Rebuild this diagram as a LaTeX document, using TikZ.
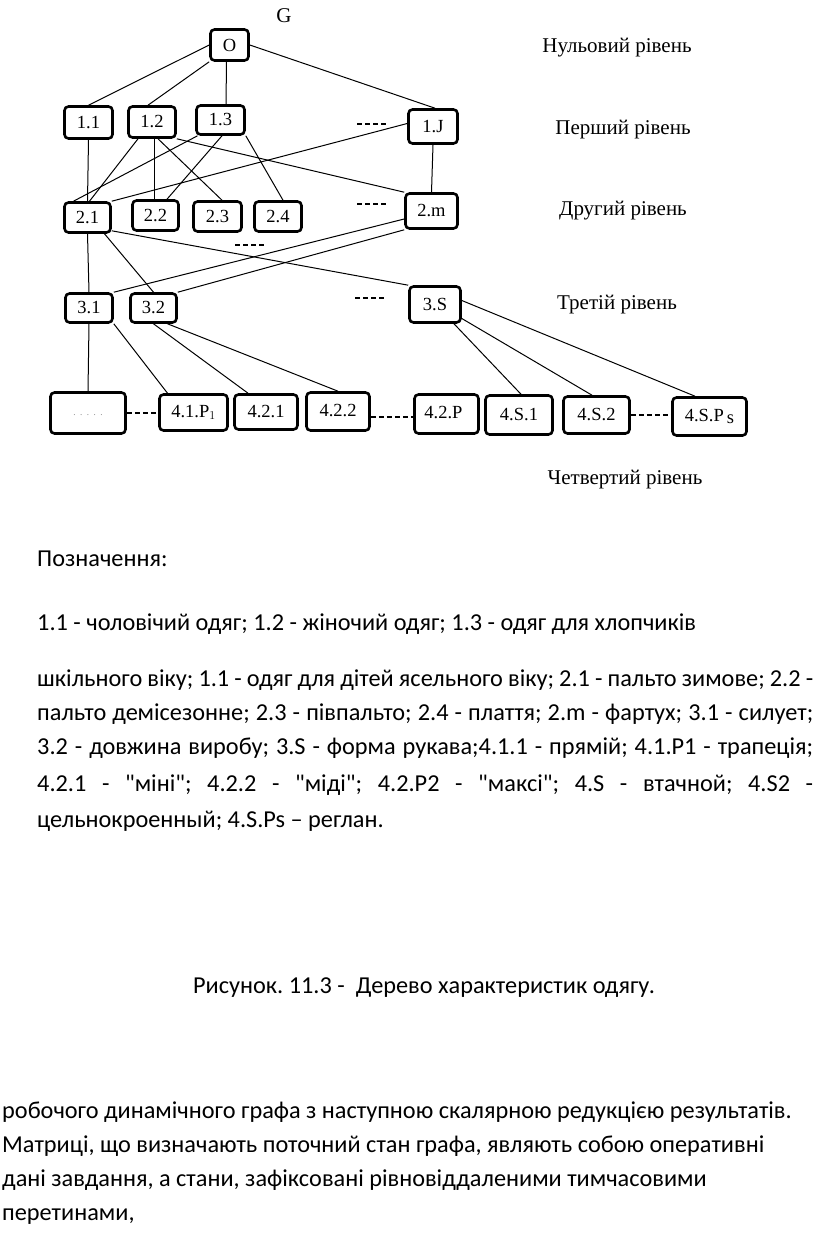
\documentclass[tikz,border=0pt]{standalone}
\usepackage{fontspec}
\setmainfont{Carlito}[Ligatures=TeXOff]
\newfontfamily\diagfont{Liberation Serif}
\frenchspacing
\begin{document}
\begin{tikzpicture}[x=1pt,y=-1pt,
  box/.style={draw, line width=2.6pt, rounded corners=4pt, inner sep=0pt,
    font=\diagfont\fontsize{18.5}{20}\selectfont},
  edge/.style={line width=1pt},
  dashlink/.style={line width=2pt, dash pattern=on 5pt off 3pt},
  lvl/.style={font=\diagfont\fontsize{21}{23}\selectfont, inner sep=0pt},
  txt/.style={font=\fontsize{24.3}{28}\selectfont, inner sep=0pt, anchor=base west},
]
\useasboundingbox (0,0) rectangle (816,1249);
% ---------- boxes ----------
\node[box, minimum width=38, minimum height=31] (O)    at (229.5,45)  {O};
\node[box, minimum width=48, minimum height=32] (n11)  at (88.5,122.5) {1.1};
\node[box, minimum width=47, minimum height=31] (n12)  at (152,122)   {1.2};
\node[box, minimum width=48, minimum height=29] (n13)  at (220.5,120) {1.3};
\node[box, minimum width=49, minimum height=34] (n1J)  at (433,126.5) {1.J};
\node[box, minimum width=46, minimum height=30] (n21)  at (87.5,217.5) {2.1};
\node[box, minimum width=46, minimum height=30] (n22)  at (155.5,215.5) {2.2};
\node[box, minimum width=48, minimum height=30] (n23)  at (217.5,216.5) {2.3};
\node[box, minimum width=47, minimum height=30] (n24)  at (278,216.5) {2.4};
\node[box, minimum width=52, minimum height=35] (n2m)  at (431.5,211) {2.m};
\node[box, minimum width=47, minimum height=29] (n31)  at (89,308)    {3.1};
\node[box, minimum width=46, minimum height=29] (n32)  at (153.5,308) {3.2};
\node[box, minimum width=51, minimum height=36] (n3S)  at (435,304.5) {3.S};
\node[box, minimum width=75, minimum height=41] (n40)  at (88,413)    {\raisebox{-5pt}{\fontsize{9}{10}\selectfont\color{gray}.\ \ .\ \ .\ \ .\ \ .}};
\node[box, minimum width=68, minimum height=36] (n41P) at (193.5,412.5) {4.1.P$_1$};
\node[box, minimum width=63, minimum height=35] (n421) at (266,412)   {4.2.1};
\node[box, minimum width=63, minimum height=38] (n422) at (338,411.5) {\raisebox{3pt}{4.2.2}};
\node[box, minimum width=64, minimum height=39] (n42P) at (446.5,414) {\raisebox{4pt}{4.2.P\hspace{6pt}}};
\node[box, minimum width=67, minimum height=39] (n4S1) at (519,415)   {4.S.1};
\node[box, minimum width=66, minimum height=37] (n4S2) at (596.5,415) {\raisebox{2pt}{4.S.2}};
\node[box, minimum width=74, minimum height=38] (n4SP) at (709.5,416.5) {4.S.P\,\raisebox{-2pt}{s}};
% ---------- labels ----------
\node[lvl] (G) at (284,16) {G};
\node[lvl] (L0) at (617,48)  {Нульовий рівень};
\node[lvl] (L1) at (623,130) {Перший рівень};
\node[lvl] (L2) at (623,211) {Другий рівень};
\node[lvl] (L3) at (617,305) {Третій рівень};
\node[lvl] (L4) at (625,480) {Четвертий рівень};
% ---------- edges ----------
\draw[edge] (O.west) -- (n11.north);
\draw[edge] (O.south west) -- ([xshift=-4]n12.north);
\draw[edge] ([xshift=-3]O.south) -- ([xshift=5.5]n13.north);
\draw[edge] (O.east) -- ([xshift=2]n1J.north);
\draw[edge] (n11.south) -- (n21.north);
\draw[edge] ([xshift=-14]n12.south) -- ([xshift=2]n21.north);
\draw[edge] ([xshift=2]n12.south) -- ([xshift=-1.5]n22.north);
\draw[edge] ([xshift=6]n12.south) -- ([xshift=4.5]n23.north);
\draw[edge] (n12.south east) -- (n2m.north west);
\draw[edge] ([xshift=-23]n13.south) -- ([xshift=-14]n21.north);
\draw[edge] ([xshift=1.5]n13.south) -- ([xshift=11.5]n22.north);
\draw[edge] (n13.south east) -- ([xshift=5]n24.north);
\draw[edge] ([yshift=3]n1J.west) -- (n21.north east);
\draw[edge] (n1J.south) -- (n2m.north);
\draw[edge] (n21.south) -- (n31.north);
\draw[edge] ([xshift=17]n21.south) -- (n32.north);
\draw[edge] ([yshift=3]n21.south east) -- (n3S.north west);
\draw[edge] ([yshift=-8]n2m.west) -- (n31.north east);
\draw[edge] (n2m.south west) -- (n32.north east);
\draw[edge] (n31.south) -- (n40.north);
\draw[edge] (n31.south east) -- ([xshift=-26]n41P.north);
\draw[edge] (n32.south) -- ([xshift=-18]n421.north);
\draw[edge] ([xshift=14]n32.south) -- (n422.north);
\draw[edge] ([xshift=19]n3S.south) -- ([xshift=2]n4S1.north);
\draw[edge] ([yshift=-14]n3S.east) -- ([xshift=-4.5]n4S2.north);
\draw[edge] ([yshift=4]n3S.east) -- ([xshift=-14.5]n4SP.north);
% dashed links in level 4
\draw[dashlink] (n40.east) -- (n41P.west |- n40.east);
\draw[dashlink] ([yshift=-5]n422.east) -- ([yshift=-5]n422.east -| n42P.west);
\draw[dashlink] (n4S2.east) -- (n4S2.east -| n4SP.west);
% free "----" marks
\coordinate (d1a) at (357,124); \coordinate (d1b) at (388,124);
\coordinate (d2a) at (357,204); \coordinate (d2b) at (388,204);
\coordinate (d3a) at (235,245); \coordinate (d3b) at (265,245);
\coordinate (d4a) at (355,298); \coordinate (d4b) at (386,298);
\draw[dashlink] (d1a) -- (d1b);
\draw[dashlink] (d2a) -- (d2b);
\draw[dashlink] (d3a) -- (d3b);
\draw[dashlink] (d4a) -- (d4b);
% ---------- text ----------
\node[txt] (t0) at (37,566) {Позначення:};
\node[txt] (t1) at (37,630) {1.1 - чоловічий одяг; 1.2 - жіночий одяг; 1.3 - одяг для хлопчиків};
\node[txt] (t2) at (37,686) {\makebox[776pt][s]{шкільного віку; 1.1 - одяг для дітей ясельного віку; 2.1 - пальто зимове; 2.2 -}};
\node[txt] (t3) at (37,720) {\makebox[776pt][s]{пальто демісезонне; 2.3 - півпальто; 2.4 - плаття; 2.m - фартух; 3.1 - силует;}};
\node[txt] (t4) at (37,754) {\makebox[776pt][s]{3.2 - довжина виробу; 3.S - форма рукава;4.1.1 - прямій; 4.1.P1 - трапеція;}};
\node[txt] (t5) at (37,791) {\makebox[776pt][s]{4.2.1 - "міні"; 4.2.2 - "міді"; 4.2.P2 - "максі"; 4.S - втачной; 4.S2 -}};
\node[txt] (t6) at (37,827) {цельнокроенный; 4.S.Ps – реглан.};
\node[txt, anchor=base] (cap) at (424,993) {Рисунок. 11.3 - \ Дерево характеристик одягу.};
\node[txt] (b1) at (2,1118) {робочого динамічного графа з наступною скалярною редукцією результатів.};
\node[txt] (b2) at (2,1152) {Матриці, що визначають поточний стан графа, являють собою оперативні};
\node[txt] (b3) at (2,1186) {дані завдання, а стани, зафіксовані рівновіддаленими тимчасовими};
\node[txt] (b4) at (2,1220) {перетинами,};
\end{tikzpicture}
\end{document}
